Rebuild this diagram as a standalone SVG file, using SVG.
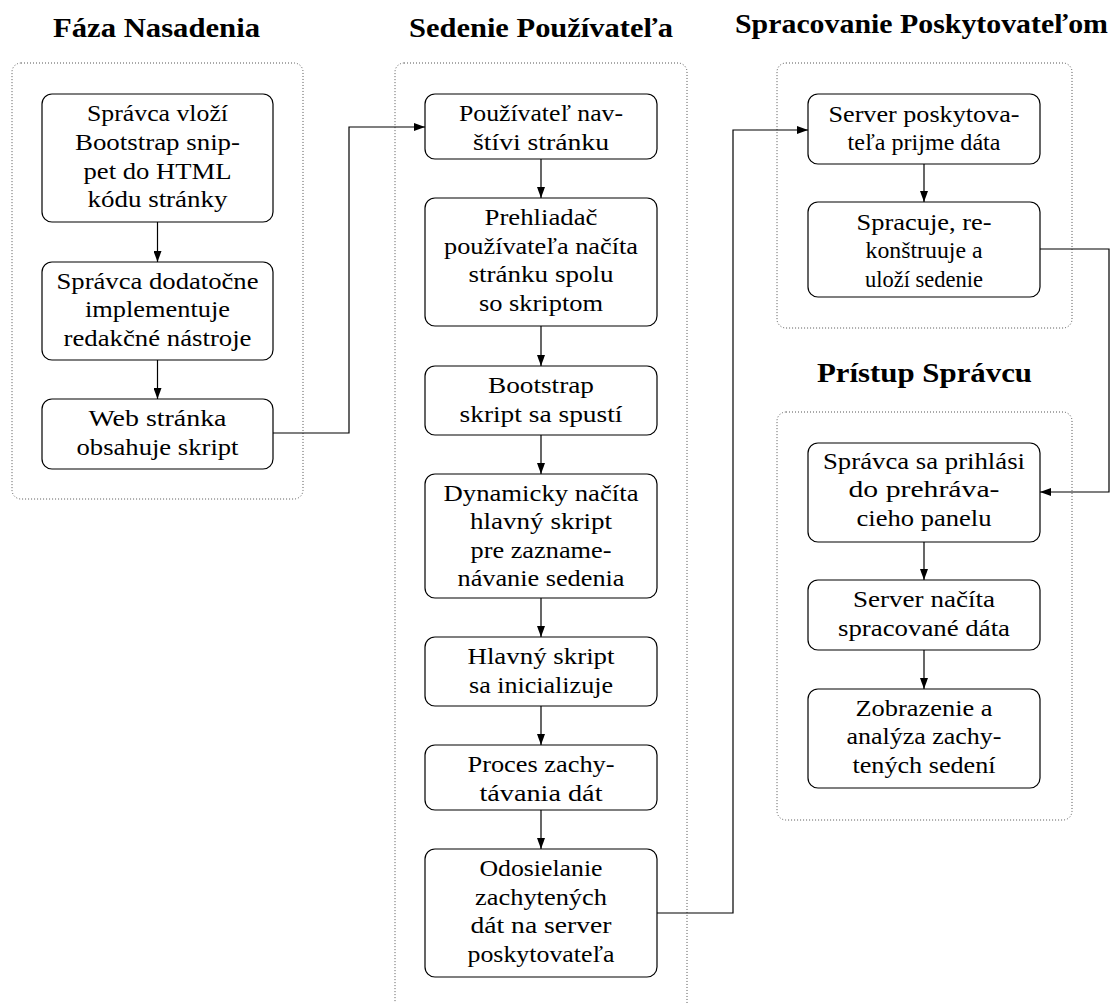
<svg xmlns="http://www.w3.org/2000/svg" width="1116" height="1003" viewBox="0 0 1116 1003" font-family="Liberation Serif, DejaVu Serif, serif">
<style>
.cont{fill:none;stroke:#555;stroke-width:1;stroke-dasharray:1 2}
.box{fill:#fff;stroke:#000;stroke-width:1.2}
.t{font-size:24px;text-anchor:middle;fill:#000}
.h{font-weight:bold;font-size:27px;text-anchor:middle;fill:#000}
.c{fill:none;stroke:#000;stroke-width:1.2;marker-end:url(#ah)}
</style>
<defs>
<marker id="ah" markerUnits="userSpaceOnUse" markerWidth="11" markerHeight="8" refX="11" refY="4" orient="auto">
<path d="M0,0 L11,4 L0,8 Z" fill="#000"/>
</marker>
</defs>
<rect width="1116" height="1003" fill="#fff"/>

<g id="titles">
<text class="h" x="156.5" y="37" textLength="207" lengthAdjust="spacingAndGlyphs">Fáza Nasadenia</text>
<text class="h" x="541" y="37" textLength="264" lengthAdjust="spacingAndGlyphs">Sedenie Používateľa</text>
<text class="h" x="921.5" y="33" textLength="373" lengthAdjust="spacingAndGlyphs">Spracovanie Poskytovateľom</text>
<text class="h" x="924.5" y="382" textLength="215" lengthAdjust="spacingAndGlyphs">Prístup Správcu</text>
</g>

<g id="containers">
<rect id="phase-deploy" class="cont" x="12" y="63" width="291" height="436" rx="9"/>
<rect id="phase-session" class="cont" x="395" y="63" width="292" height="960" rx="9"/>
<rect id="phase-provider" class="cont" x="777" y="63" width="295" height="265" rx="9"/>
<rect id="phase-admin" class="cont" x="777" y="412" width="295" height="408" rx="9"/>
</g>

<g id="connectors">
<line class="c" x1="157.5" y1="222" x2="157.5" y2="262"/>
<line class="c" x1="157.5" y1="360" x2="157.5" y2="399"/>
<polyline class="c" points="273,433 349,433 349,127 425,127"/>
<line class="c" x1="541" y1="159" x2="541" y2="198"/>
<line class="c" x1="541" y1="326" x2="541" y2="366"/>
<line class="c" x1="541" y1="435" x2="541" y2="474"/>
<line class="c" x1="541" y1="598" x2="541" y2="637"/>
<line class="c" x1="541" y1="706" x2="541" y2="745"/>
<line class="c" x1="541" y1="810" x2="541" y2="849"/>
<polyline class="c" points="657,913 733,913 733,130 808,130"/>
<line class="c" x1="924" y1="164" x2="924" y2="202"/>
<polyline class="c" points="1040,249 1109,249 1109,492 1040,492"/>
<line class="c" x1="924" y1="542" x2="924" y2="580"/>
<line class="c" x1="924" y1="650" x2="924" y2="689"/>
</g>

<g id="n1">
<rect class="box" x="42" y="94" width="231" height="128" rx="10"/>
<text class="t" x="157.5" y="121" textLength="141" lengthAdjust="spacingAndGlyphs">Správca vloží</text>
<text class="t" x="157.5" y="149.5" textLength="165" lengthAdjust="spacingAndGlyphs">Bootstrap snip-</text>
<text class="t" x="157.5" y="178.5" textLength="148" lengthAdjust="spacingAndGlyphs">pet do HTML</text>
<text class="t" x="157.5" y="207" textLength="140" lengthAdjust="spacingAndGlyphs">kódu stránky</text>
</g>
<g id="n2">
<rect class="box" x="42" y="262" width="231" height="98" rx="10"/>
<text class="t" x="157.5" y="288.5" textLength="202" lengthAdjust="spacingAndGlyphs">Správca dodatočne</text>
<text class="t" x="157.5" y="317" textLength="145" lengthAdjust="spacingAndGlyphs">implementuje</text>
<text class="t" x="157.5" y="345.5" textLength="188" lengthAdjust="spacingAndGlyphs">redakčné nástroje</text>
</g>
<g id="n3">
<rect class="box" x="42" y="399" width="231" height="70" rx="10"/>
<text class="t" x="157.5" y="426" textLength="138" lengthAdjust="spacingAndGlyphs">Web stránka</text>
<text class="t" x="157.5" y="454.5" textLength="162" lengthAdjust="spacingAndGlyphs">obsahuje skript</text>
</g>

<g id="s1">
<rect class="box" x="425" y="94" width="232" height="65" rx="10"/>
<text class="t" x="541" y="121" textLength="164" lengthAdjust="spacingAndGlyphs">Používateľ nav-</text>
<text class="t" x="541" y="149.5" textLength="136" lengthAdjust="spacingAndGlyphs">štívi stránku</text>
</g>
<g id="s2">
<rect class="box" x="425" y="198" width="232" height="128" rx="10"/>
<text class="t" x="541" y="225" textLength="113" lengthAdjust="spacingAndGlyphs">Prehliadač</text>
<text class="t" x="541" y="253.5" textLength="194" lengthAdjust="spacingAndGlyphs">používateľa načíta</text>
<text class="t" x="541" y="282" textLength="145" lengthAdjust="spacingAndGlyphs">stránku spolu</text>
<text class="t" x="541" y="310.5" textLength="124" lengthAdjust="spacingAndGlyphs">so skriptom</text>
</g>
<g id="s3">
<rect class="box" x="425" y="366" width="232" height="69" rx="10"/>
<text class="t" x="541" y="393" textLength="106" lengthAdjust="spacingAndGlyphs">Bootstrap</text>
<text class="t" x="541" y="421.5" textLength="163" lengthAdjust="spacingAndGlyphs">skript sa spustí</text>
</g>
<g id="s4">
<rect class="box" x="425" y="474" width="232" height="124" rx="10"/>
<text class="t" x="541" y="500.5" textLength="195" lengthAdjust="spacingAndGlyphs">Dynamicky načíta</text>
<text class="t" x="541" y="529" textLength="142" lengthAdjust="spacingAndGlyphs">hlavný skript</text>
<text class="t" x="541" y="557.5" textLength="141" lengthAdjust="spacingAndGlyphs">pre zazname-</text>
<text class="t" x="541" y="586" textLength="167" lengthAdjust="spacingAndGlyphs">návanie sedenia</text>
</g>
<g id="s5">
<rect class="box" x="425" y="637" width="232" height="69" rx="10"/>
<text class="t" x="541" y="664" textLength="147" lengthAdjust="spacingAndGlyphs">Hlavný skript</text>
<text class="t" x="541" y="692.5" textLength="144" lengthAdjust="spacingAndGlyphs">sa inicializuje</text>
</g>
<g id="s6">
<rect class="box" x="425" y="745" width="232" height="65" rx="10"/>
<text class="t" x="541" y="772" textLength="147" lengthAdjust="spacingAndGlyphs">Proces zachy-</text>
<text class="t" x="541" y="800.5" textLength="123" lengthAdjust="spacingAndGlyphs">távania dát</text>
</g>
<g id="s7">
<rect class="box" x="425" y="849" width="232" height="128" rx="10"/>
<text class="t" x="541" y="876" textLength="123" lengthAdjust="spacingAndGlyphs">Odosielanie</text>
<text class="t" x="541" y="904.5" textLength="132" lengthAdjust="spacingAndGlyphs">zachytených</text>
<text class="t" x="541" y="933" textLength="141" lengthAdjust="spacingAndGlyphs">dát na server</text>
<text class="t" x="541" y="961.5" textLength="147" lengthAdjust="spacingAndGlyphs">poskytovateľa</text>
</g>

<g id="p1">
<rect class="box" x="808" y="94" width="232" height="70" rx="10"/>
<text class="t" x="924" y="121.5" textLength="191" lengthAdjust="spacingAndGlyphs">Server poskytova-</text>
<text class="t" x="924" y="150" textLength="153" lengthAdjust="spacingAndGlyphs">teľa prijme dáta</text>
</g>
<g id="p2">
<rect class="box" x="808" y="202" width="232" height="95" rx="10"/>
<text class="t" x="924" y="229.5" textLength="135" lengthAdjust="spacingAndGlyphs">Spracuje, re-</text>
<text class="t" x="924" y="258" textLength="117" lengthAdjust="spacingAndGlyphs">konštruuje a</text>
<text class="t" x="924" y="286.5" textLength="118" lengthAdjust="spacingAndGlyphs">uloží sedenie</text>
</g>

<g id="a1">
<rect class="box" x="808" y="443" width="232" height="99" rx="10"/>
<text class="t" x="924" y="468.5" textLength="202" lengthAdjust="spacingAndGlyphs">Správca sa prihlási</text>
<text class="t" x="924" y="497" textLength="151" lengthAdjust="spacingAndGlyphs">do prehráva-</text>
<text class="t" x="924" y="525.5" textLength="135" lengthAdjust="spacingAndGlyphs">cieho panelu</text>
</g>
<g id="a2">
<rect class="box" x="808" y="580" width="232" height="70" rx="10"/>
<text class="t" x="924" y="607" textLength="142" lengthAdjust="spacingAndGlyphs">Server načíta</text>
<text class="t" x="924" y="635.5" textLength="172" lengthAdjust="spacingAndGlyphs">spracované dáta</text>
</g>
<g id="a3">
<rect class="box" x="808" y="689" width="232" height="99" rx="10"/>
<text class="t" x="924" y="715.5" textLength="137" lengthAdjust="spacingAndGlyphs">Zobrazenie a</text>
<text class="t" x="924" y="744" textLength="155" lengthAdjust="spacingAndGlyphs">analýza zachy-</text>
<text class="t" x="924" y="772.5" textLength="143" lengthAdjust="spacingAndGlyphs">tených sedení</text>
</g>
</svg>
